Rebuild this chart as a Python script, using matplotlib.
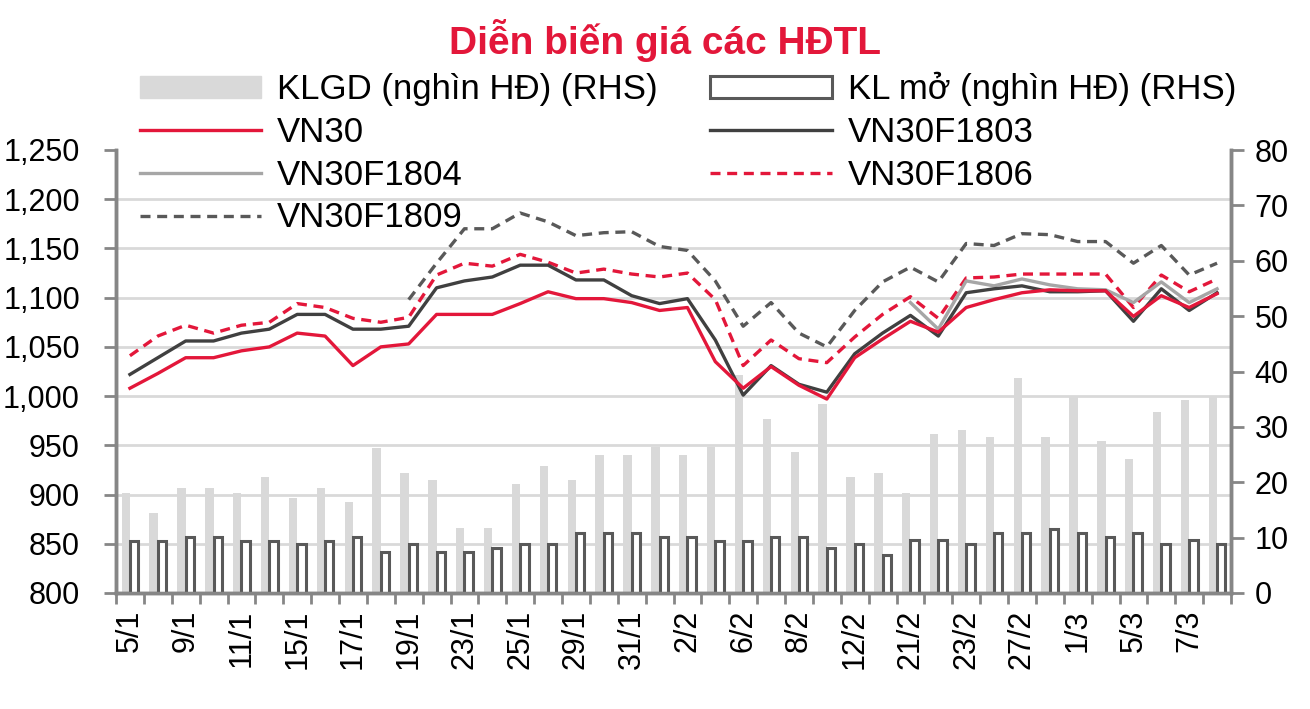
import matplotlib
matplotlib.use("Agg")
import matplotlib.pyplot as plt
import numpy as np
from matplotlib.ticker import FixedLocator, FuncFormatter
from matplotlib.patches import Patch
from matplotlib.lines import Line2D

plt.rcParams['font.family'] = ['Liberation Sans', 'DejaVu Sans']

dates = ['5/1','8/1','9/1','10/1','11/1','12/1','15/1','16/1','17/1','18/1','19/1','22/1',
         '23/1','24/1','25/1','26/1','29/1','30/1','31/1','1/2','2/2','5/2','6/2','7/2',
         '8/2','9/2','12/2','13/2','21/2','22/2','23/2','26/2','27/2','28/2','1/3','2/3',
         '5/3','6/3','7/3','8/3']

vn30 = [1008,1023,1039,1039,1046,1050,1064,1061,1031,1050,1053,1083,1083,1083,1094,1106,
        1099,1099,1095,1087,1090,1035,1008,1030,1011,997,1039,1058,1076,1065,1090,1098,
        1105,1108,1107,1107,1081,1102,1090,1104]
f1803 = [1022,1039,1056,1056,1064,1068,1083,1083,1068,1068,1071,1110,1117,1121,1133,1133,
         1118,1118,1102,1094,1099,1057,1001,1031,1012,1004,1043,1064,1082,1061,1105,1109,
         1112,1106,1106,1107,1076,1109,1087,1105]
f1804 = [None]*28 + [1095,1068,1117,1112,1119,1113,1109,1108,1095,1116,1095,1109]
f1806 = [1041,1061,1072,1064,1072,1075,1094,1090,1079,1075,1080,1123,1135,1132,1144,1136,
         1125,1129,1124,1121,1125,1098,1031,1057,1038,1034,1060,1083,1101,1079,1120,1121,
         1124,1124,1124,1124,1090,1123,1106,1119]
f1809 = [None]*10 + [1098,1135,1170,1170,1186,1177,1163,1166,1167,1152,1148,1117,1071,1095,
                     1064,1050,1087,1116,1131,1116,1155,1153,1165,1164,1157,1157,1135,1153,
                     1123,1135]
klgd = [18.0,14.4,18.9,18.9,18.0,21.0,17.1,18.9,16.4,26.2,21.6,20.4,11.7,11.7,19.7,22.9,
        20.4,24.9,24.9,26.4,24.9,26.3,39.4,31.5,25.5,34.1,21.0,21.7,18.0,28.8,29.5,28.2,
        38.8,28.2,35.6,27.5,24.2,32.7,34.8,35.6]
klmo = [9.4,9.4,10.1,10.1,9.4,9.4,8.8,9.4,10.1,7.4,8.8,7.4,7.4,8.2,8.8,8.8,10.8,10.8,10.8,
        10.1,10.1,9.4,9.4,10.1,10.1,8.2,8.8,6.8,9.5,9.5,8.8,10.8,10.8,11.5,10.8,10.1,10.8,
        8.8,9.5,8.8]

left_ticks = list(range(800, 1251, 50))
right_ticks = list(range(0, 81, 10))

RED = '#E3173A'
DARK = '#404040'
LGRAY = '#A6A6A6'
DGRAY = '#595959'
BARG = '#D9D9D9'
SPINE = '#868686'
GRID = '#D9D9D9'

def arr(v):
    return np.array([np.nan if x is None else x for x in v], dtype=float)

fig = plt.figure(figsize=(13.1, 7.09), dpi=100)
ax = fig.add_axes([116/1310, 1-593/709, (1231-116)/1310, (593-150)/709])
ax2 = ax.twinx()
ax.set_zorder(ax2.get_zorder() + 1)
ax.patch.set_visible(False)

x = np.arange(len(dates))

# bars on right axis
ax2.bar(x - 0.15, klgd, width=0.3, color=BARG, zorder=2)
ax2.bar(x + 0.15, klmo, width=0.3, facecolor='white', edgecolor=DGRAY, linewidth=2.2, zorder=3)
ax2.set_ylim(0, 80)
ax2.set_yticks(right_ticks)

# gridlines at left-axis tick positions, drawn behind the bars
lo, hi = 800, 1250
conv = [(v - lo) / (hi - lo) * 80 for v in left_ticks]
ax2.yaxis.set_minor_locator(FixedLocator(conv))
ax2.grid(which='minor', axis='y', color=GRID, linewidth=2, zorder=0)
ax2.set_axisbelow(True)
ax2.tick_params(axis='y', which='minor', length=0)

# lines on left axis
lw = 2.4
ax.plot(x, arr(f1809), color=DGRAY, lw=lw, ls=(0, (3, 2)), zorder=3)
ax.plot(x, arr(f1806), color=RED, lw=lw, ls=(0, (3, 2)), zorder=4)
ax.plot(x, arr(f1804), color=LGRAY, lw=lw, zorder=5)
ax.plot(x, arr(f1803), color=DARK, lw=lw, zorder=6)
ax.plot(x, vn30, color=RED, lw=lw, zorder=7)

ax.set_ylim(lo, hi)
ax.set_yticks(left_ticks)
ax.yaxis.set_major_formatter(FuncFormatter(lambda v, p: f"{int(v):,}"))
ax.set_xlim(-0.5, len(dates) - 0.5)

# x ticks: boundaries as major ticks, labels every other category
ax.set_xticks(np.arange(-0.5, len(dates), 1.0))
ax.set_xticklabels([])
ax.set_xticks(x[::2], minor=True)
ax.set_xticklabels(dates[::2], minor=True, rotation=90, fontsize=22)
ax.tick_params(axis='x', which='major', length=8, width=2, color=SPINE, direction='out')
ax.tick_params(axis='x', which='minor', length=0, pad=12)
ax.tick_params(axis='y', length=9, width=2, color=SPINE, labelsize=22, pad=17)
ax2.tick_params(axis='y', which='major', length=9, width=2, color=SPINE, labelsize=22, pad=8)

for a in (ax, ax2):
    a.spines['top'].set_visible(False)
    for s in ('left', 'right', 'bottom'):
        a.spines[s].set_color(SPINE)
        a.spines[s].set_linewidth(2.5)

# title
fig.text(665/1310, 1-40/709, 'Diễn biến giá các HĐTL', color=RED, fontsize=28,
         fontweight='bold', ha='center', va='center')

handles = [
    Patch(facecolor=BARG, edgecolor=BARG),
    Line2D([], [], color=RED, lw=lw),
    Line2D([], [], color=LGRAY, lw=lw),
    Line2D([], [], color=DGRAY, lw=lw, ls=(0, (3, 2))),
    Patch(facecolor='white', edgecolor=DGRAY, linewidth=2.2),
    Line2D([], [], color=DARK, lw=lw),
    Line2D([], [], color=RED, lw=lw, ls=(0, (3, 2))),
]
labels = ['KLGD (nghìn HĐ) (RHS)', 'VN30', 'VN30F1804', 'VN30F1809',
          'KL mở (nghìn HĐ) (RHS)', 'VN30F1803', 'VN30F1806']
leg = fig.legend(handles, labels, ncol=2, loc='upper left',
                 bbox_to_anchor=(126/1310, 1-58/709), frameon=False, fontsize=25,
                 handlelength=3.5, handleheight=0.6, handletextpad=0.45,
                 columnspacing=1.52, labelspacing=0.28, borderaxespad=0)
leg.set_zorder(20)

fig.savefig('out.png', dpi=100)
